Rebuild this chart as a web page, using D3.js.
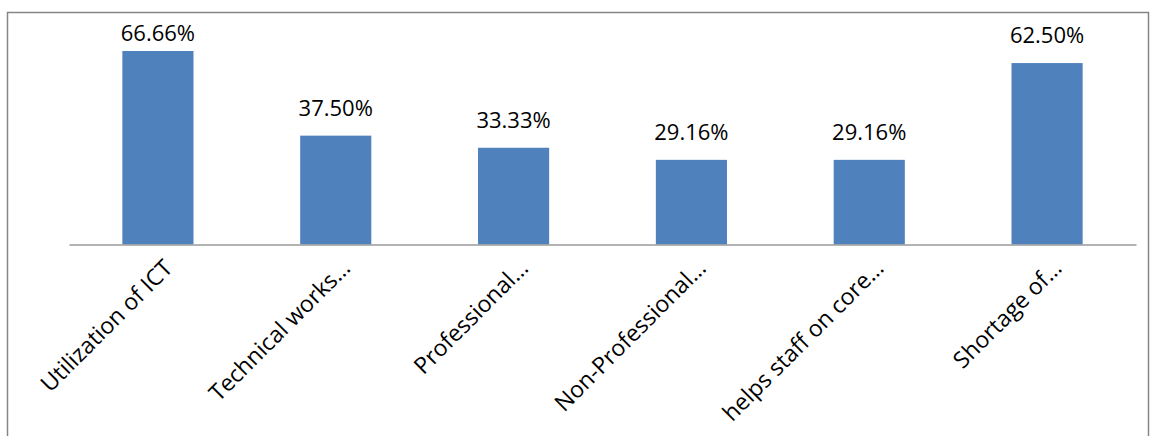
<!DOCTYPE html>
<html>
<head>
<meta charset="utf-8">
<script src="https://cdn.jsdelivr.net/npm/d3@7"></script>
<style>
  html, body { margin: 0; padding: 0; background: #fff; }
  svg { display: block; }
  text { font-family: "Open Sans", "Noto Sans", sans-serif; fill: #000; }
</style>
</head>
<body>
<div id="chart"></div>
<script>
// Categories (axis labels as shown, long ones truncated) and their shares in percent
const categories = [
  "Utilization of ICT",
  "Technical works\u2026",
  "Professional\u2026",
  "Non-Professional\u2026",
  "helps staff on core\u2026",
  "Shortage of\u2026"
];
const values = [66.66, 37.50, 33.33, 29.16, 29.16, 62.50];
const valueLabels = ["66.66%", "37.50%", "33.33%", "29.16%", "29.16%", "62.50%"];
const yDomain = [0, 70];

const width = 1151, height = 436;
const plot = { left: 69, right: 1136, top: 41.3, bottom: 244.5 };

const svg = d3.select("#chart").append("svg")
  .attr("width", width)
  .attr("height", height);

// chart frame
svg.append("rect")
  .attr("x", 7.5).attr("y", 12.5)
  .attr("width", 1141).attr("height", 440)
  .attr("fill", "#fff")
  .attr("stroke", "#868686")
  .attr("stroke-width", 1.5);

const x = d3.scaleBand()
  .domain(categories)
  .range([plot.left, plot.right])
  .paddingInner(0.6)
  .paddingOuter(0.3);

const y = d3.scaleLinear()
  .domain(yDomain)
  .range([plot.bottom, plot.top]);

const data = categories.map((c, i) => ({ cat: c, value: values[i], label: valueLabels[i] }));

// bars
svg.append("g").selectAll("rect")
  .data(data)
  .join("rect")
  .attr("x", d => x(d.cat))
  .attr("y", d => y(d.value))
  .attr("width", x.bandwidth())
  .attr("height", d => y(0) - y(d.value))
  .attr("fill", "#4F81BD");

// value labels above the bars, kept inside the plot area
svg.append("g").selectAll("text")
  .data(data)
  .join("text")
  .attr("x", d => x(d.cat) + x.bandwidth() / 2)
  .attr("y", d => Math.max(y(d.value) - 20, y(yDomain[1])))
  .attr("text-anchor", "middle")
  .style("font-size", "22px")
  .text(d => d.label);

// category axis
const xAxis = d3.axisBottom(x).tickSize(0).tickPadding(0);
const gx = svg.append("g")
  .attr("transform", `translate(0,${plot.bottom})`)
  .call(xAxis);

gx.select(".domain")
  .attr("stroke", "#9a9a9a")
  .attr("stroke-width", 1.5);

gx.selectAll(".tick text")
  .attr("text-anchor", "end")
  .attr("dy", null)
  .attr("y", 0)
  .attr("transform", "translate(16,25) rotate(-45)")
  .style("font-size", "23px")
  .style("font-family", "\"Open Sans\", sans-serif")
  .attr("fill", "#000");
</script>
</body>
</html>
